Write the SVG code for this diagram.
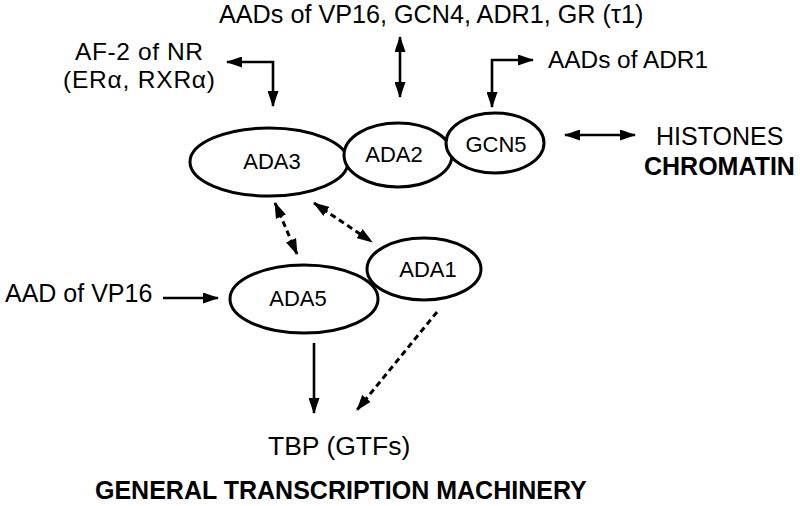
<svg xmlns="http://www.w3.org/2000/svg" width="800" height="506" viewBox="0 0 800 506">
<style>
text{font-family:"Liberation Sans",Arial,Helvetica,sans-serif;fill:#000}
.lbl{font-size:25px}
.node{font-size:22px;text-anchor:middle}
.bold{font-weight:bold}
ellipse{fill:#fff;stroke:#000;stroke-width:3}
.c{fill:none;stroke:#000;stroke-width:2.6}
.d{stroke-dasharray:6 4;stroke-width:3}
</style>
<defs>
<marker id="ah" markerUnits="userSpaceOnUse" markerWidth="16" markerHeight="11" refX="15" refY="5.5" orient="auto-start-reverse" viewBox="0 0 16 11">
<path d="M0,0 L16,5.5 L0,11 z" fill="#000"/>
</marker>
</defs>
<rect width="800" height="506" fill="#fff"/>
<g id="labels">
<text class="lbl" x="219" y="23" style="font-size:25.2px">AADs of VP16, GCN4, ADR1, GR (τ1)</text>
<text class="lbl" x="75" y="60" style="font-size:24.5px" textLength="128" lengthAdjust="spacing">AF-2 of NR</text>
<text class="lbl" x="63" y="88" style="font-size:24.5px" textLength="152" lengthAdjust="spacing">(ERα, RXRα)</text>
<text class="lbl" x="548" y="68" style="font-size:24.4px">AADs of ADR1</text>
<text class="lbl" x="656" y="145">HISTONES</text>
<text class="lbl bold" x="644" y="175">CHROMATIN</text>
<text class="lbl" x="5" y="302">AAD of VP16</text>
<text class="lbl" x="268" y="455" style="font-size:26.5px">TBP (GTFs)</text>
<text class="lbl bold" x="95" y="499">GENERAL TRANSCRIPTION MACHINERY</text>
</g>
<g id="ADA3"><ellipse cx="269" cy="162" rx="79" ry="34"/><text class="node" x="272" y="169">ADA3</text></g>
<g id="ADA2"><ellipse cx="398" cy="155" rx="54" ry="32"/><text class="node" x="394" y="162">ADA2</text></g>
<g id="GCN5"><ellipse cx="495" cy="143" rx="49" ry="30"/><text class="node" x="496" y="152">GCN5</text></g>
<g id="ADA5"><ellipse cx="304" cy="299" rx="74" ry="34"/><text class="node" x="298" y="306">ADA5</text></g>
<g id="ADA1"><ellipse cx="424" cy="269" rx="57" ry="31"/><text class="node" x="428" y="277">ADA1</text></g>
<g id="connectors">
<path class="c" d="M227,62 H273 V106" marker-start="url(#ah)" marker-end="url(#ah)"/>
<path class="c" d="M400,37 V97" marker-start="url(#ah)" marker-end="url(#ah)"/>
<path class="c" d="M533,60 H492 V107" marker-start="url(#ah)" marker-end="url(#ah)"/>
<path class="c" d="M565,135 H635" marker-start="url(#ah)" marker-end="url(#ah)"/>
<path class="c" d="M163,298 H218" marker-end="url(#ah)"/>
<path class="c d" d="M275,203 L297,254" marker-start="url(#ah)" marker-end="url(#ah)"/>
<path class="c d" d="M314,203 L372,242" marker-start="url(#ah)" marker-end="url(#ah)"/>
<path class="c" d="M314,343 V413" marker-end="url(#ah)"/>
<path class="c d" d="M437,312 L357,410" marker-end="url(#ah)"/>
</g>
</svg>
